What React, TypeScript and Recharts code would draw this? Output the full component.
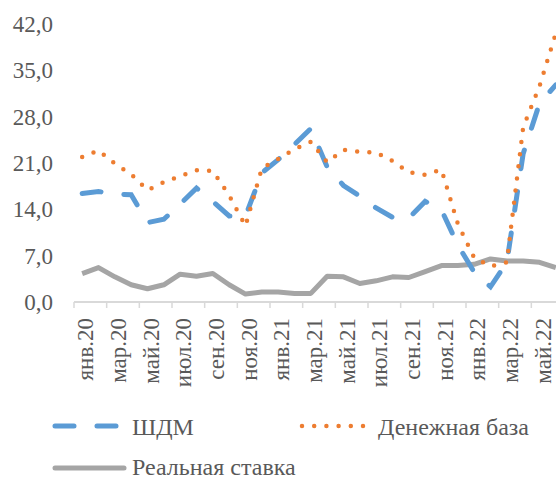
import { LineChart, Line, XAxis, YAxis } from "recharts";

const months = [
  "янв.20", "фев.20", "мар.20", "апр.20", "май.20", "июн.20",
  "июл.20", "авг.20", "сен.20", "окт.20", "ноя.20", "дек.20",
  "янв.21", "фев.21", "мар.21", "апр.21", "май.21", "июн.21",
  "июл.21", "авг.21", "сен.21", "окт.21", "ноя.21", "дек.21",
  "янв.22", "фев.22", "мар.22", "апр.22", "май.22", "июн.22",
];

const shdm = [
  16.4, 16.7, 16.3, 16.2, 12.0, 12.5, 14.8, 17.2, 15.2, 13.0, 13.0, 19.5,
  21.5, 23.8, 26.2, 20.4, 17.6, 16.0, 14.2, 12.8, 12.7, 15.2, 13.9, 8.6,
  4.5, 2.3, 6.0, 22.4, 30.0, 32.8,
];

const base = [
  21.9, 22.9, 20.9, 19.3, 16.9, 18.1, 19.0, 19.9, 19.8, 16.1, 11.5, 20.2,
  21.6, 23.1, 24.2, 21.1, 23.0, 22.7, 22.6, 21.3, 19.6, 19.2, 20.0, 11.8,
  6.7, 5.4, 6.0, 26.4, 32.6, 40.6,
];

const rate = [
  4.3, 5.2, 3.8, 2.6, 2.0, 2.6, 4.2, 3.9, 4.3, 2.6, 1.2, 1.5,
  1.5, 1.3, 1.3, 3.9, 3.8, 2.8, 3.2, 3.8, 3.7, 4.6, 5.5, 5.5,
  5.7, 6.5, 6.2, 6.2, 6.0, 5.2,
];

const yTicks = [0, 7, 14, 21, 28, 35, 42];

const data = months.map((m, i) => ({
  month: m,
  shdm: shdm[i],
  base: base[i],
  rate: rate[i],
}));

const FONT = "'Liberation Serif', 'Times New Roman', serif";
const TEXT = "#595959";
const BLUE = "#5B9BD5";
const ORANGE = "#ED7D31";
const GRAY = "#A5A5A5";

const PLOT_W = 490;
const BAND = PLOT_W / months.length;

const XTick = (props: any) => {
  const { x, y, payload } = props;
  return (
    <g>
      <line x1={x - BAND / 2} x2={x - BAND / 2} y1={y} y2={y + 6} stroke="#d9d9d9" strokeWidth={1.5} />
      <text
        transform={`translate(${x + 11},${y + 16}) rotate(-90)`}
        textAnchor="end"
        fontSize={23}
        fontFamily={FONT}
        fill={TEXT}
      >
        {payload.value}
      </text>
    </g>
  );
};

const Legend = () => (
  <svg width={556} height={480} style={{ position: "absolute", left: 0, top: 0, pointerEvents: "none" }}>
    <line x1={55} x2={116} y1={426} y2={426} stroke={BLUE} strokeWidth={5} strokeLinecap="round" strokeDasharray="19 23" />
    <text x={132} y={435} fontSize={24} fontFamily={FONT} fill={TEXT}>ШДМ</text>
    <line x1={302} x2={367} y1={426} y2={426} stroke={ORANGE} strokeWidth={4.5} strokeLinecap="round" strokeDasharray="0 12.2" />
    <text x={378} y={435} fontSize={24} fontFamily={FONT} fill={TEXT}>Денежная база</text>
    <line x1={55} x2={124} y1={468} y2={468} stroke={GRAY} strokeWidth={5} strokeLinecap="round" />
    <text x={132} y={475} fontSize={24} fontFamily={FONT} fill={TEXT}>Реальная ставка</text>
  </svg>
);

export default function App() {
  return (
    <div style={{ position: "absolute", left: 0, top: 0, width: 556, height: 480, overflow: "hidden", background: "#fff" }}>
      <LineChart width={580} height={420} data={data} margin={{ top: 24, right: 16, bottom: 0, left: 0 }}>
        <XAxis
          dataKey="month"
          interval={1}
          height={118}
          padding={{ left: BAND / 2, right: BAND / 2 }}
          tickSize={0}
          tickMargin={0}
          tickLine={false}
          axisLine={{ stroke: "#d9d9d9", strokeWidth: 2 }}
          tick={<XTick />}
        />
        <YAxis
          width={74}
          domain={[0, 42]}
          ticks={yTicks}
          axisLine={false}
          tickLine={false}
          tickSize={0}
          tickMargin={21}
          tickFormatter={(v: number) => v.toFixed(1).replace(".", ",")}
          tick={{ fontSize: 23, fontFamily: FONT, fill: TEXT }}
        />
        <Line dataKey="rate" stroke={GRAY} strokeWidth={5} dot={false} isAnimationActive={false} strokeLinejoin="round" />
        <Line dataKey="shdm" stroke={BLUE} strokeWidth={5} dot={false} isAnimationActive={false} strokeDasharray="19 23" strokeLinecap="round" />
        <Line dataKey="base" stroke={ORANGE} strokeWidth={4.5} dot={false} isAnimationActive={false} strokeDasharray="0 12.2" strokeLinecap="round" />
      </LineChart>
      <Legend />
    </div>
  );
}
